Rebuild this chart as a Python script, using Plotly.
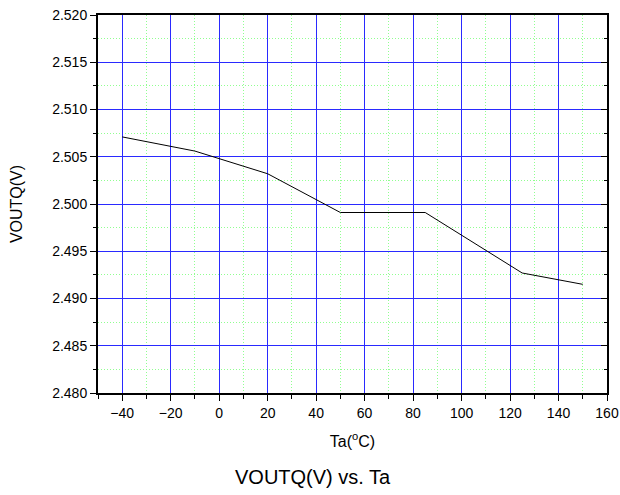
import plotly.graph_objects as go

# Data
temps = [-40, -10, 20, 50, 85, 125, 150]
voutq = [2.5071, 2.5056, 2.5032, 2.4991, 2.4991, 2.4927, 2.4915]

FONT = "Liberation Sans, Arial, sans-serif"
NOGRID = "rgba(0,0,0,0)"

fig = go.Figure()
fig.add_trace(go.Scatter(x=temps, y=voutq, mode="lines",
                         line=dict(color="black", width=1),
                         showlegend=False, hoverinfo="skip"))
# invisible trace to carry the right-side tick axis
fig.add_trace(go.Scatter(x=temps, y=voutq, mode="lines", yaxis="y2",
                         line=dict(color="rgba(0,0,0,0)", width=0),
                         showlegend=False, hoverinfo="skip"))

fig.update_layout(
    width=620, height=495,
    margin=dict(l=98, r=13, t=15, b=102),
    paper_bgcolor="white", plot_bgcolor="white",
    font=dict(family=FONT, color="black", size=14),
    xaxis=dict(
        range=[-50, 160], tick0=0, dtick=20, automargin=False,
        showline=True, linecolor="black", linewidth=2, mirror=True,
        ticks="outside", ticklen=6, tickwidth=1, tickcolor="black",
        showgrid=True, gridcolor="#2a2aff", gridwidth=1,
        zeroline=False,
        tickfont=dict(size=14),
        title=dict(text="Ta(<sup>o</sup>C)", font=dict(size=16), standoff=16),
        minor=dict(dtick=10, tick0=0, ticks="outside", ticklen=4,
                   tickcolor="black", showgrid=True,
                   gridcolor="#90ff90", griddash="1px,2px", gridwidth=1),
    ),
    yaxis=dict(
        range=[2.480, 2.520], tick0=2.48, dtick=0.005, tickformat=".3f",
        automargin=False,
        showline=True, linecolor="black", linewidth=2, mirror=True,
        ticks="outside", ticklen=6, tickwidth=1, tickcolor="black",
        showgrid=True, gridcolor="#2a2aff", gridwidth=1,
        zeroline=False,
        tickfont=dict(size=14),
        title=dict(text="VOUTQ(V)", font=dict(size=16), standoff=26),
        minor=dict(dtick=0.0025, tick0=2.48, ticks="outside", ticklen=3,
                   tickcolor="black", showgrid=True,
                   gridcolor="#90ff90", griddash="1px,2px", gridwidth=1),
    ),
    yaxis2=dict(
        overlaying="y", side="right", range=[2.480, 2.520], automargin=False,
        tick0=2.48, dtick=0.005, showticklabels=False,
        ticks="inside", ticklen=6, tickcolor="black",
        showgrid=False, gridcolor=NOGRID, zeroline=False, showline=False,
        minor=dict(dtick=0.0025, tick0=2.48, ticks="inside", ticklen=3,
                   tickcolor="black", showgrid=False, gridcolor=NOGRID),
    ),
    annotations=[dict(text="VOUTQ(V) vs. Ta", xref="paper", yref="paper",
                      x=(313 - 98) / (607 - 98), y=-(477 - 393) / (393 - 15),
                      xanchor="center", yanchor="middle", showarrow=False,
                      font=dict(size=20, family=FONT, color="black"))],
)

fig.write_html("out.html")
